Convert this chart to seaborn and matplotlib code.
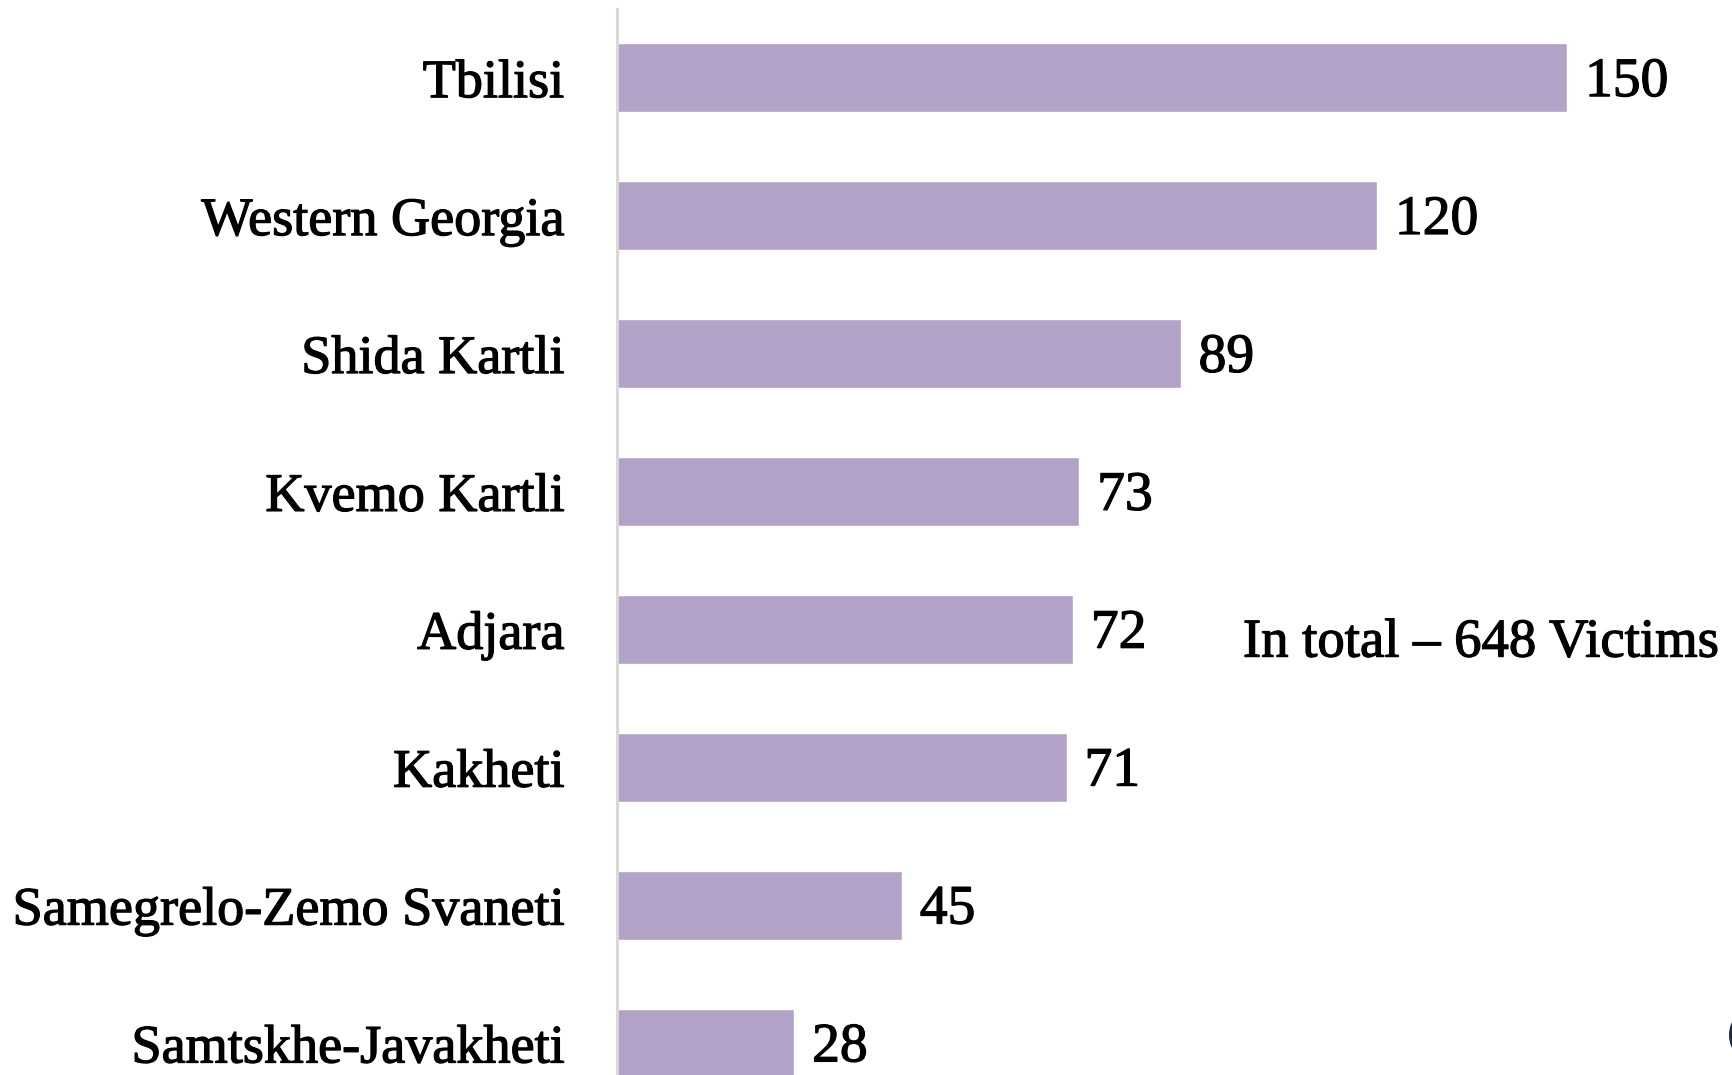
import pandas as pd
import matplotlib.pyplot as plt
import matplotlib.patheffects as pe
import seaborn as sns
from matplotlib.patches import Ellipse

regions = ['Tbilisi', 'Western Georgia', 'Shida Kartli', 'Kvemo Kartli',
           'Adjara', 'Kakheti', 'Samegrelo-Zemo Svaneti', 'Samtskhe-Javakheti']
victims = [150, 120, 89, 73, 72, 71, 45, 28]
total_note = 'In total \u2013 648 Victims'

df = pd.DataFrame({'region': regions, 'victims': victims})

sns.set_style('white')
plt.rcParams['font.family'] = ['Liberation Serif', 'DejaVu Serif']
plt.rcParams['text.color'] = 'black'
plt.rcParams['ytick.color'] = 'black'

# slight stroke so the serif text looks as heavy as in the source
heavy = [pe.withStroke(linewidth=0.9, foreground='black')]

fig = plt.figure(figsize=(17.32, 10.75), dpi=100)
# axes runs to the bottom edge, last bar gets clipped like in the source
ax = fig.add_axes([617 / 1732, 0, 1 - 617 / 1732, 1 - 9 / 1075])

sns.barplot(data=df, x='victims', y='region', orient='h', color='#B3A2C7',
            saturation=1, width=0.5, ax=ax)

ax.set_xlim(0, 176)
ax.set_ylim(7.23, -0.5)

for i, v in enumerate(victims):
    ax.text(v + 2.8, i + 0.03, str(v), va='center', ha='left', fontsize=40,
            path_effects=heavy)

ax.text(98.8, 4.1, total_note, va='center', ha='left', fontsize=39.4,
        path_effects=heavy)

ax.set_xlabel('')
ax.set_ylabel('')
ax.set_xticks([])
ax.tick_params(axis='y', length=0, pad=38, labelsize=39, labelcolor='black')
for lab in ax.get_yticklabels():
    lab.set_path_effects(heavy)
for s in ['top', 'right', 'bottom']:
    ax.spines[s].set_visible(False)
ax.spines['left'].set_color('#d9d9d9')
ax.spines['left'].set_linewidth(2.2)

# clipped dark shape at the bottom right edge
fig.patches.append(Ellipse((1760 / 1732, 1 - 1035 / 1075), 62 / 1732, 62 / 1075,
                           transform=fig.transFigure, facecolor='#1f2a44',
                           edgecolor='none'))

fig.savefig('out.png', dpi=100)
